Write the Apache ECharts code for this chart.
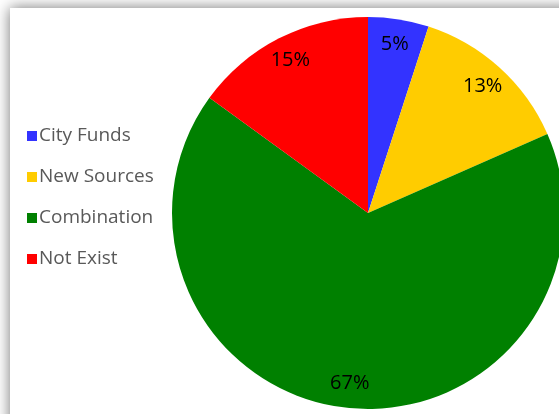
<!DOCTYPE html>
<html>
<head>
<meta charset="utf-8">
<script src="https://cdn.jsdelivr.net/npm/echarts@6/dist/echarts.min.js"></script>
<style>
html, body { margin: 0; padding: 0; background: #fff; }
#chart { width: 559px; height: 414px; }
</style>
</head>
<body>
<div id="chart"></div>
<script>
var categories = ['City Funds', 'New Sources', 'Combination', 'Not Exist'];
var shares = [5, 13.4, 66.6, 15];
var sliceColors = ['#3333ff', '#ffcc00', '#008000', '#ff0000'];

var pieData = [];
for (var i = 0; i < categories.length; i++) {
	pieData.push({
		name : categories[i],
		value : shares[i],
		itemStyle : { color : sliceColors[i] }
	});
}

var chart = echarts.init(document.getElementById('chart'));
var option = {
	backgroundColor : '#fff',
	animation : false,
	graphic : [ {
		type : 'rect',
		z : -10,
		shape : { x : 10, y : 8, width : 620, height : 480 },
		style : {
			fill : '#fff',
			shadowBlur : 14,
			shadowColor : 'rgba(0,0,0,0.55)'
		}
	} ],
	legend : {
		orient : 'vertical',
		left : 22,
		top : 120,
		itemWidth : 10,
		itemHeight : 10,
		itemGap : 19,
		icon : 'rect',
		data : categories,
		textStyle : {
			fontFamily : 'Open Sans',
			fontSize : 19,
			lineHeight : 22,
			color : '#595959',
			padding : [ 0, 0, 0, -3 ]
		}
	},
	series : [ {
		// visible pie
		type : 'pie',
		center : [ 368, 213 ],
		radius : [ 0, 196 ],
		startAngle : 90,
		clockwise : true,
		silent : true,
		label : { show : false },
		labelLine : { show : false },
		data : pieData
	}, {
		// transparent ring used only to place the percent labels
		type : 'pie',
		center : [ 368, 213 ],
		radius : [ 140, 196 ],
		startAngle : 90,
		clockwise : true,
		silent : true,
		legendHoverLink : false,
		itemStyle : { color : 'rgba(0,0,0,0)' },
		label : {
			show : true,
			position : 'inside',
			formatter : function(p) {
				return Math.round(p.value) + '%';
			},
			fontFamily : 'Open Sans',
			fontSize : 20,
			color : '#000'
		},
		labelLine : { show : false },
		data : shares.map(function(v, i) {
			return { name : categories[i] + ' ', value : v };
		})
	} ]
};
chart.setOption(option);
</script>
</body>
</html>
